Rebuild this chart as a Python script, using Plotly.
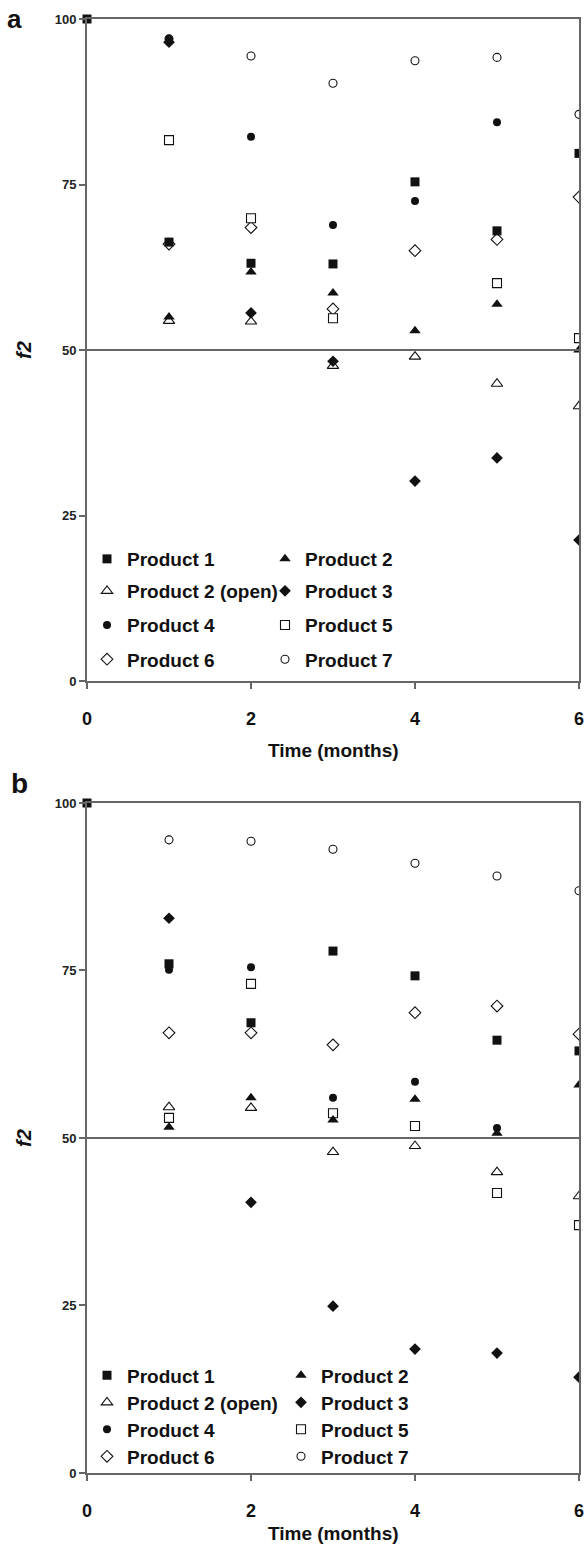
import plotly.graph_objects as go

times = [0, 1, 2, 3, 4, 5, 6]
products = ["Product 1", "Product 2", "Product 2 (open)", "Product 3",
            "Product 4", "Product 5", "Product 6", "Product 7"]

# Panel a
a_p1 = [100, 66.3, 63.1, 63.0, 75.4, 68.0, 79.7]
a_p2 = [None, 55.0, 61.8, 58.6, 52.9, 56.9, 50.0]
a_p2o = [None, 54.4, 54.3, 47.6, 49.0, 44.9, 41.5]
a_p3 = [None, 96.5, 55.6, 48.3, 30.2, 33.7, 21.3]
a_p4 = [None, 97.0, 82.2, 68.9, 72.5, 84.4, None]
a_p5 = [None, 81.7, 69.9, 54.8, None, 60.1, 51.8]
a_p6 = [None, 66.0, 68.5, 56.2, 65.0, 66.7, 73.1]
a_p7 = [None, 97.0, 94.4, 90.3, 93.7, 94.2, 85.6]

# Panel b
b_p1 = [100, 76.0, 67.2, 77.9, 74.2, 64.6, 63.0]
b_p2 = [None, 51.6, 56.0, 52.7, 55.8, 50.7, 57.9]
b_p2o = [None, 54.6, 54.5, 47.9, 48.8, 44.9, 41.3]
b_p3 = [None, 82.8, 40.4, 24.9, 18.5, 17.9, 14.3]
b_p4 = [None, 75.1, 75.5, 56.0, 58.4, 51.5, None]
b_p5 = [None, 53.0, 73.0, 53.7, 51.8, 41.8, 37.0]
b_p6 = [None, 65.7, 65.7, 63.9, 68.7, 69.7, 65.5]
b_p7 = [None, 94.5, 94.3, 93.1, 91.0, 89.1, 86.9]

y_ticks = [0, 25, 50, 75, 100]
x_ticks = [0, 2, 4, 6]
x_title = "Time (months)"
y_title = "f2"

FONT = "Liberation Sans, Arial, sans-serif"
INK = "#111111"
AXC = "#666666"

symbols = ["square", "triangle-up", "triangle-up", "diamond",
           "circle", "square", "diamond", "circle"]
filled = [True, True, False, True, True, False, False, False]
sizes = [9, 10, 10, 9, 8, 9, 9, 8]
draw_order = [7, 6, 5, 2, 4, 3, 1, 0]

panels = [
    ("x", "y", [a_p1, a_p2, a_p2o, a_p3, a_p4, a_p5, a_p6, a_p7], 1),
    ("x2", "y2", [b_p1, b_p2, b_p2o, b_p3, b_p4, b_p5, b_p6, b_p7], 5),
]

fig = go.Figure()
for xa, ya, series, leg0 in panels:
    for i in draw_order:
        vals = series[i]
        xs = [t for t, v in zip(times, vals) if v is not None and t > 0]
        ys = [v for t, v in zip(times, vals) if v is not None and t > 0]
        leg_idx = leg0 + i // 2
        legname = "legend" if leg_idx == 1 else f"legend{leg_idx}"
        marker = dict(symbol=symbols[i], size=sizes[i],
                      color=INK if filled[i] else "white",
                      line=dict(color=INK, width=0 if filled[i] else 1.1))
        fig.add_trace(go.Scatter(x=xs, y=ys, mode="markers", name=products[i],
                                 marker=marker, xaxis=xa, yaxis=ya,
                                 legend=legname, legendrank=i + 1,
                                 cliponaxis=True))
    # starting point (t = 0)
    fig.add_trace(go.Scatter(x=times[:1], y=series[0][:1], mode="markers",
                             marker=dict(symbol="square", size=9, color=INK),
                             xaxis=xa, yaxis=ya, showlegend=False,
                             cliponaxis=False))

axis_common = dict(showline=True, mirror=True, linecolor=AXC, linewidth=2,
                   showgrid=False, zeroline=False, ticks="outside",
                   tickcolor=AXC, tickwidth=1.5, automargin=False)

xa_style = dict(axis_common, range=[0, 6], tickvals=x_ticks, ticklen=6,
                ticklabelstandoff=14,
                tickfont=dict(family=FONT, size=18, color=INK, weight="bold"))
ya_style = dict(axis_common, range=[0, 100], tickvals=y_ticks, ticklen=6,
                tickfont=dict(family=FONT, size=13, color="#222222", weight="bold"),
                title=dict(text=f"<b><i>{y_title}</i></b>", standoff=18,
                           font=dict(family=FONT, size=20, color=INK)))

# plot area geometry: margins l=87, r=9, t=19, b=71 -> plot height 1454
legend_rows_a = [0.6286, 0.6066, 0.5831, 0.5596]
legend_rows_b = [0.0671, 0.0485, 0.0300, 0.0114]

layout = dict(
    width=588, height=1544,
    margin=dict(l=87, r=9, t=19, b=71, autoexpand=False),
    paper_bgcolor="white", plot_bgcolor="white",
    font=dict(family=FONT, color=INK),
    xaxis=dict(xa_style, domain=[0, 1], anchor="y"),
    yaxis=dict(ya_style, domain=[0.5447, 1], anchor="x"),
    xaxis2=dict(xa_style, domain=[0, 1], anchor="y2"),
    yaxis2=dict(ya_style, domain=[0, 0.4608], anchor="x2"),
    shapes=[
        dict(type="line", xref="x domain", yref="y", x0=0, x1=1, y0=50, y1=50,
             line=dict(color=AXC, width=2)),
        dict(type="line", xref="x2 domain", yref="y2", x0=0, x1=1, y0=50, y1=50,
             line=dict(color=AXC, width=2)),
    ],
    annotations=[
        dict(text="<b>a</b>", xref="paper", yref="paper", x=-0.148, y=1.0,
             xanchor="center", yanchor="middle", showarrow=False,
             font=dict(family=FONT, size=26, color=INK)),
        dict(text="<b>b</b>", xref="paper", yref="paper", x=-0.138, y=0.474,
             xanchor="center", yanchor="middle", showarrow=False,
             font=dict(family=FONT, size=28, color=INK)),
        dict(text=f"<b>{x_title}</b>", xref="x domain", yref="paper", x=0.5, y=0.4972,
             xanchor="center", yanchor="middle", showarrow=False,
             font=dict(family=FONT, size=19, color=INK)),
        dict(text=f"<b>{x_title}</b>", xref="x2 domain", yref="paper", x=0.5, y=-0.0413,
             xanchor="center", yanchor="middle", showarrow=False,
             font=dict(family=FONT, size=19, color=INK)),
    ],
)

for k in range(8):
    name = "legend" if k == 0 else f"legend{k + 1}"
    if k < 4:
        y = legend_rows_a[k]
        ew = 133
    else:
        y = legend_rows_b[k - 4]
        ew = 149
    layout[name] = dict(orientation="h", x=0.0, y=y, xanchor="left", yanchor="middle",
                        entrywidth=ew, bgcolor="rgba(0,0,0,0)", borderwidth=0,
                        traceorder="normal",
                        font=dict(family=FONT, size=19, color=INK, weight="bold"))

fig.update_layout(**layout)
fig.write_html("out.html")
